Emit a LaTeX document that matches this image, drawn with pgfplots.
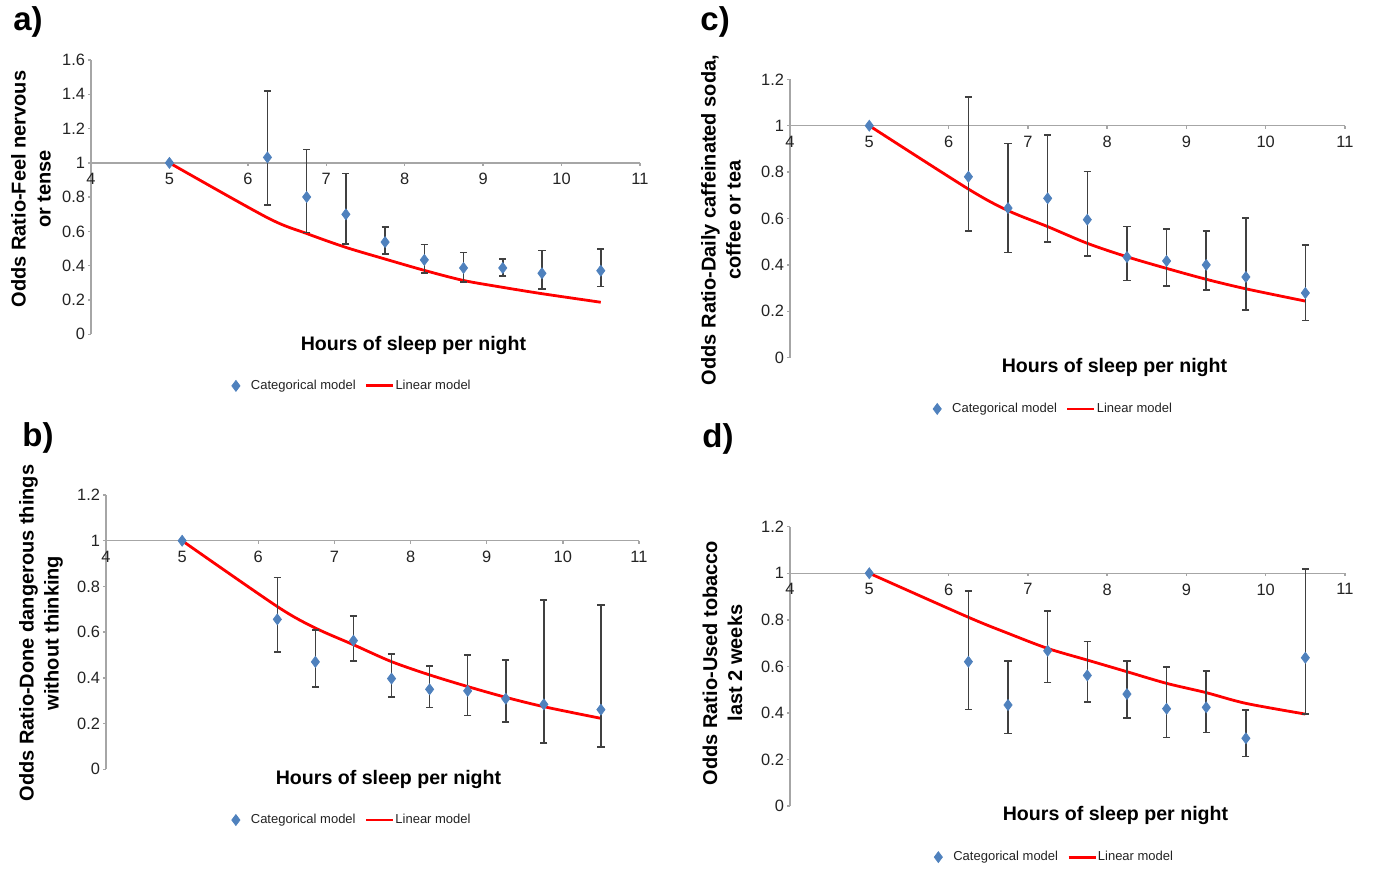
\documentclass[border=0pt]{standalone}
\usepackage{pgfplots}
\pgfplotsset{compat=1.18}
\usepackage{pgfplotstable}
\usepackage{fontspec}
\setmainfont{Liberation Sans}

\definecolor{catblue}{RGB}{79,129,189}
\definecolor{axisgray}{RGB}{166,166,166}
\definecolor{barcol}{RGB}{64,64,64}
\definecolor{textcol}{RGB}{35,35,35}

\newcommand{\ticksize}{\fontsize{8.2}{9.5}\selectfont}

% categorical model: estimate with lower / upper limit
\pgfplotstableread{
x y lo hi
5 1 1 1
6.25 1.032 0.754 1.419
6.75 0.801 0.593 1.077
7.25 0.700 0.527 0.939
7.75 0.538 0.470 0.626
8.25 0.434 0.356 0.525
8.75 0.387 0.305 0.478
9.25 0.387 0.340 0.441
9.75 0.356 0.264 0.490
10.5 0.371 0.280 0.496
}\catA
\pgfplotstableread{
x y lo hi
5 1 1 1
6.25 0.656 0.512 0.840
6.75 0.470 0.360 0.609
7.25 0.563 0.473 0.671
7.75 0.397 0.317 0.504
8.25 0.350 0.270 0.453
8.75 0.343 0.235 0.500
9.25 0.309 0.206 0.478
9.75 0.284 0.114 0.741
10.5 0.261 0.098 0.719
}\catB
\pgfplotstableread{
x y lo hi
5 1 1 1
6.25 0.780 0.546 1.125
6.75 0.645 0.454 0.924
7.25 0.687 0.500 0.959
7.75 0.595 0.438 0.803
8.25 0.434 0.332 0.566
8.75 0.417 0.310 0.556
9.25 0.400 0.293 0.545
9.75 0.348 0.206 0.601
10.5 0.279 0.160 0.487
}\catC
\pgfplotstableread{
x y lo hi
5 1 1 1
6.25 0.620 0.414 0.925
6.75 0.434 0.311 0.622
7.25 0.667 0.531 0.839
7.75 0.561 0.447 0.707
8.25 0.481 0.379 0.622
8.75 0.418 0.294 0.597
9.25 0.424 0.315 0.580
9.75 0.291 0.212 0.412
10.5 0.637 0.395 1.018
}\catD

% linear model
\pgfplotstableread{
x y
5 1
6.25 0.680
6.75 0.588
7.25 0.507
7.75 0.439
8.25 0.373
8.75 0.314
9.25 0.274
9.75 0.237
10.5 0.187
}\linA
\pgfplotstableread{
x y
5 1
6.25 0.712
6.75 0.618
7.25 0.545
7.75 0.471
8.25 0.413
8.75 0.362
9.25 0.315
9.75 0.274
10.5 0.223
}\linB
\pgfplotstableread{
x y
5 1
6.25 0.727
6.75 0.634
7.25 0.565
7.75 0.493
8.25 0.435
8.75 0.385
9.25 0.338
9.75 0.297
10.5 0.244
}\linC
\pgfplotstableread{
x y
5 1
6.25 0.811
6.75 0.742
7.25 0.677
7.75 0.627
8.25 0.577
8.75 0.527
9.25 0.487
9.75 0.441
10.5 0.395
}\linD

\pgfplotsset{
  panel/.style={
    scale only axis, enlargelimits=false, clip=false,
    xmin=4, xmax=11, ymin=0,
    axis x line=none, axis y line=left,
    xtick=\empty,
    y axis line style={-, draw=axisgray, line width=0.7pt},
    ytick style={draw=axisgray, line width=0.7pt},
    tick align=outside, major tick length=1.5pt,
    /pgf/number format/assume math mode=true,
    yticklabel style={font=\ticksize, text=textcol, inner sep=1.3pt},
    legend columns=2, reverse legend,
    legend style={draw=none, fill=none, font=\fontsize{6.5}{7.5}\selectfont,
      text=textcol, nodes={inner sep=0.5pt},
      /tikz/every even column/.append style={column sep=4pt}},
  },
  linplot/.style={red, line width=1.4pt, smooth, no marks,
    legend image code/.code={\draw[##1] (0pt,0pt) -- (13.5pt,0pt);}},
  catplot/.style={only marks, mark=diamond*, mark size=2.7pt,
    mark options={fill=catblue, draw=catblue},
    legend image code/.code={\path[draw=none, fill=none] (-2pt,0pt) rectangle (7pt,0.1pt);
      \draw[##1] plot coordinates {(0pt,0pt)};},
    error bars/y dir=both, error bars/y explicit,
    error bars/error bar style={line width=0.8pt, draw=barcol},
    error bars/error mark options={rotate=90, mark size=1.8pt, line width=0.8pt, draw=barcol}},
}

% x axis drawn through OR = 1
\newcommand{\xaxisatone}{%
  \draw[axisgray, line width=0.7pt] (axis cs:4,1) -- (axis cs:11,1);
  \pgfplotsinvokeforeach{4,...,11}{%
    \draw[axisgray, line width=0.7pt] (axis cs:##1,1) -- ++(0pt,-1.5pt);
    \node[anchor=north, inner sep=0pt, font=\ticksize, text=textcol, yshift=-5pt]
      at (axis cs:##1,1) {##1};
  }%
}

\begin{document}
\begin{tikzpicture}
\useasboundingbox (0pt,0pt) rectangle (686.5pt,-434.5pt);

% a)
\begin{axis}[panel, at={(45.5pt,-167.15pt)}, anchor=south west,
  width=274.5pt, height=137.15pt, ymax=1.6,
  ytick={0,0.2,0.4,0.6,0.8,1,1.2,1.4,1.6},
  legend style={at={(0.475,-0.188)}, anchor=center}]
\xaxisatone
\addplot[linplot] table[x=x, y=y] {\linA};
\addlegendentry{Linear model}
\addplot[catplot] table[x=x, y=y, y error plus expr=\thisrow{hi}-\thisrow{y},
  y error minus expr=\thisrow{y}-\thisrow{lo}] {\catA};
\addlegendentry{Categorical model}
\end{axis}

% b)
\begin{axis}[panel, at={(53pt,-384.65pt)}, anchor=south west,
  width=266.5pt, height=137.15pt, ymax=1.2,
  ytick={0,0.2,0.4,0.6,0.8,1,1.2},
  legend style={at={(0.461,-0.185)}, anchor=center}]
\xaxisatone
\addplot[linplot] table[x=x, y=y] {\linB};
\addlegendentry{Linear model}
\addplot[catplot] table[x=x, y=y, y error plus expr=\thisrow{hi}-\thisrow{y},
  y error minus expr=\thisrow{y}-\thisrow{lo}] {\catB};
\addlegendentry{Categorical model}
\end{axis}

% c)
\begin{axis}[panel, at={(395pt,-178.85pt)}, anchor=south west,
  width=277.5pt, height=139.2pt, ymax=1.2,
  ytick={0,0.2,0.4,0.6,0.8,1,1.2},
  legend style={at={(0.474,-0.184)}, anchor=center}]
\xaxisatone
\addplot[linplot] table[x=x, y=y] {\linC};
\addlegendentry{Linear model}
\addplot[catplot] table[x=x, y=y, y error plus expr=\thisrow{hi}-\thisrow{y},
  y error minus expr=\thisrow{y}-\thisrow{lo}] {\catC};
\addlegendentry{Categorical model}
\end{axis}

% d)
\begin{axis}[panel, at={(395pt,-403pt)}, anchor=south west,
  width=277.5pt, height=139.65pt, ymax=1.2,
  ytick={0,0.2,0.4,0.6,0.8,1,1.2},
  legend style={at={(0.476,-0.183)}, anchor=center}]
\xaxisatone
\addplot[linplot] table[x=x, y=y] {\linD};
\addlegendentry{Linear model}
\addplot[catplot] table[x=x, y=y, y error plus expr=\thisrow{hi}-\thisrow{y},
  y error minus expr=\thisrow{y}-\thisrow{lo}] {\catD};
\addlegendentry{Categorical model}
\end{axis}

% titles and axis labels, placed in image pixels
\begin{scope}[x=0.5pt, y=-0.5pt]
  \tikzset{
    letter/.style={anchor=base west, inner sep=0pt, font=\fontsize{16.5}{18}\selectfont\bfseries},
    ylab/.style={rotate=90, align=center, inner sep=0pt,
      font=\fontsize{10}{12.5}\selectfont\bfseries},
    xlab/.style={anchor=base, inner sep=0pt, font=\fontsize{9.8}{11}\selectfont\bfseries},
  }
  \node[letter] at (13,30) {a)};
  \node[letter] at (22,446) {b)};
  \node[letter] at (700,30) {c)};
  \node[letter] at (702,447) {d)};

  \node[ylab] at (31,189) {Odds Ratio-Feel nervous\\or tense};
  \node[ylab] at (41,633) {Odds Ratio-Done dangerous things\\without thinking};
  \node[ylab] at (721,220) {Odds Ratio-Daily caffeinated soda,\\coffee or tea};
  \node[ylab] at (722.5,663) {Odds Ratio-Used tobacco\\last 2 weeks};

  \node[xlab] at (413.5,350) {Hours of sleep per night};
  \node[xlab] at (388.5,784) {Hours of sleep per night};
  \node[xlab] at (1114.5,372.7) {Hours of sleep per night};
  \node[xlab] at (1115.5,820) {Hours of sleep per night};
\end{scope}
\end{tikzpicture}
\end{document}
